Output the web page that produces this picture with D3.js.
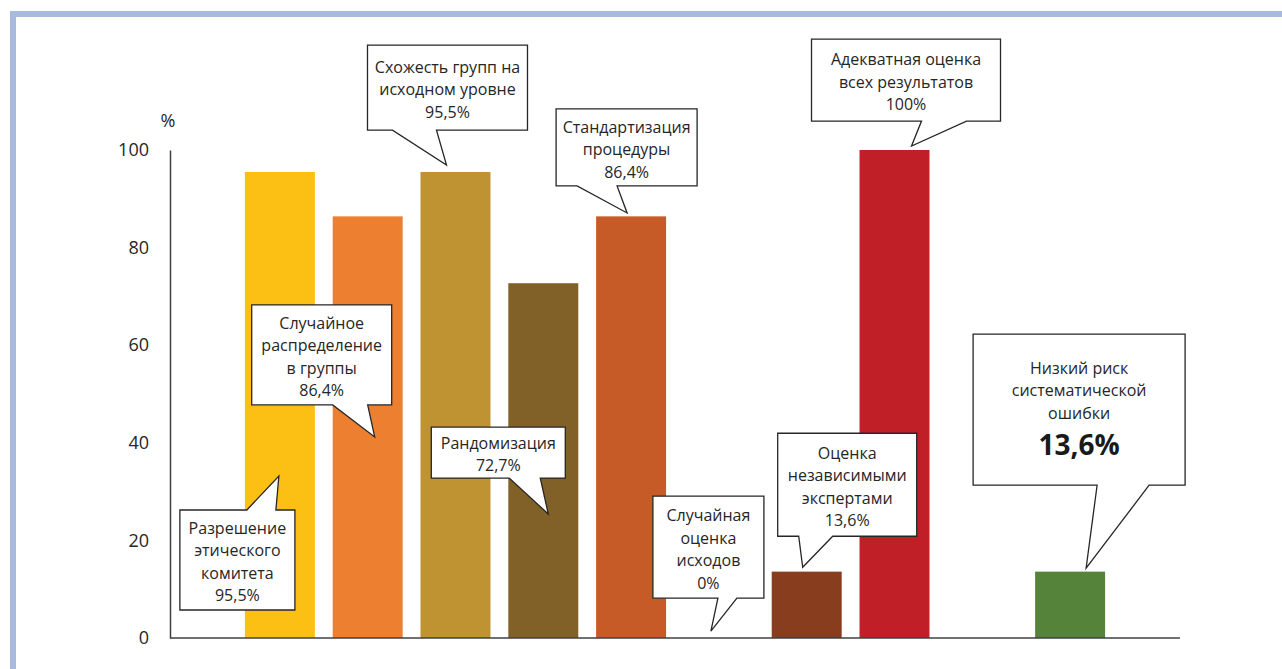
<!DOCTYPE html>
<html><head><meta charset="utf-8">
<script src="https://cdn.jsdelivr.net/npm/d3@7"></script>
<style>
html,body{margin:0;padding:0;background:#fff;}
svg{display:block;font-family:"Open Sans",sans-serif;}
</style></head>
<body>
<svg id="chart" width="1282" height="669"></svg>
<script>
// ---- data ----
const categories = ["Разрешение этического комитета","Случайное распределение в группы","Схожесть групп на исходном уровне","Рандомизация","Стандартизация процедуры","Случайная оценка исходов","Оценка независимыми экспертами","Адекватная оценка всех результатов","","Низкий риск систематической ошибки"];
const values = [95.5, 86.4, 95.5, 72.7, 86.4, 0, 13.6, 100, null, 13.6];
const colors = ["#FCBF14","#ED7F31","#BF9331","#816127","#C65B27","#C65B27","#873D1E","#C01F27","#ffffff","#548339"];
const yTicks = [0, 20, 40, 60, 80, 100];
const calloutLines = [
  ["Разрешение","этического","комитета","95,5%"],
  ["Случайное","распределение","в группы","86,4%"],
  ["Схожесть групп на","исходном уровне","95,5%"],
  ["Рандомизация","72,7%"],
  ["Стандартизация","процедуры","86,4%"],
  ["Случайная","оценка","исходов","0%"],
  ["Оценка","независимыми","экспертами","13,6%"],
  ["Адекватная оценка","всех результатов","100%"],
  ["Низкий риск","систематической","ошибки"]
];
const boldLabel = "13,6%";

// ---- layout (annotation geometry, px relative to tip) ----
const callouts = [
  {cat:0, tipDx:-1,  tipV:33.2, box:[-99, 34, 115, 100], base:[-32,-3]},
  {cat:1, tipDx:7,   tipV:41.2, box:[-123,-132,140,100], base:[-42,-7]},
  {cat:2, tipDx:-9,  tipV:96.9, box:[-79,-120,160,85],   base:[-54,-10]},
  {cat:3, tipDx:5,   tipV:25.4, box:[-117,-87,134,51],   base:[-39,-8]},
  {cat:4, tipDx:-4,  tipV:87.1, box:[-71,-104,141,77],   base:[-50,-10]},
  {cat:5, tipDx:-8,  tipV:1.4,  box:[-58,-135,111,102],  base:[7,26]},
  {cat:6, tipDx:-4,  tipV:14.5, box:[-25,-134,139,103],  base:[-4,30]},
  {cat:7, tipDx:17,  tipV:100.8,box:[-100,-107,189,82],  base:[10,55]},
  {cat:9, tipDx:16,  tipV:14.3, box:[-113,-234,212,151], base:[11,63], bold:true}
];

const svg = d3.select("#chart");
const W = 1282, H = 669;
const x0 = 170, x1 = 1180, yTop = 150, yBot = 638;

// frame
svg.append("rect").attr("x",10).attr("y",11).attr("width",W-10).attr("height",6).attr("fill","#A9BBDC");
svg.append("rect").attr("x",10).attr("y",11).attr("width",6).attr("height",H-11).attr("fill","#A9BBDC");

const x = d3.scaleBand().domain(d3.range(categories.length)).range([x0,x1]).paddingInner(0.203).paddingOuter(0.853);
const y = d3.scaleLinear().domain([0,100]).range([yBot,yTop]);

// bars
svg.append("g").selectAll("rect").data(values.map((v,i)=>({v,i}))).join("rect")
  .filter(d=>d.v!==null)
  .attr("x",d=>x(d.i)).attr("width",x.bandwidth())
  .attr("y",d=>y(d.v)).attr("height",d=>y(0)-y(d.v))
  .attr("fill",d=>colors[d.i]);

// axes
const yAxis = svg.append("g").attr("transform",`translate(${x0},0)`)
  .call(d3.axisLeft(y).tickValues(yTicks).tickSize(0).tickPadding(21));
yAxis.select(".domain").attr("stroke","#404040").attr("stroke-width",1.5);
yAxis.selectAll("text").attr("font-size",18).attr("fill","#262626").attr("font-family","'Open Sans',sans-serif");
const xAxis = svg.append("g").attr("transform",`translate(0,${yBot})`)
  .call(d3.axisBottom(x).tickSize(0).tickFormat(""));
xAxis.select(".domain").attr("stroke","#404040").attr("stroke-width",1.5).attr("d",`M${x0},0H${x1}`);

svg.append("text").attr("x",168).attr("y",127).attr("text-anchor","middle")
  .attr("font-size",18).attr("fill","#262626").text("%");

// callouts
const cg = svg.append("g");
callouts.forEach((c,k)=>{
  const tx = x(c.cat)+x.bandwidth()/2 + c.tipDx;
  const ty = y(c.tipV);
  const L = tx + c.box[0], T = ty + c.box[1], R = L + c.box[2], B = T + c.box[3];
  const b0 = tx + c.base[0], b1 = tx + c.base[1];
  let p;
  if (T > ty) { // box below tip: tail on top edge
    p = `M${L},${T}L${b0},${T}L${tx},${ty}L${b1},${T}L${R},${T}L${R},${B}L${L},${B}Z`;
  } else {
    p = `M${L},${T}L${R},${T}L${R},${B}L${b1},${B}L${tx},${ty}L${b0},${B}L${L},${B}Z`;
  }
  cg.append("path").attr("d",p).attr("fill","#fff").attr("stroke","#262626").attr("stroke-width",1.3).attr("stroke-linejoin","miter");
  const lines = calloutLines[k];
  const lh = 22.5;
  const cx = (L+R)/2;
  if (c.bold) {
    const total = lines.length*lh + 32;
    let cy = (T+B)/2 - total/2 + lh/2 - 3;
    lines.forEach((s,i)=>{
      cg.append("text").attr("x",cx).attr("y",cy+i*lh).attr("dy","0.35em")
        .attr("text-anchor","middle").attr("font-size",16).attr("fill","#262626").text(s);
    });
    cg.append("text").attr("x",cx).attr("y",cy+(lines.length-1)*lh+32).attr("dy","0.35em")
      .attr("text-anchor","middle").attr("font-size",28).attr("font-weight","bold").attr("fill","#1a1a1a").text(boldLabel);
  } else {
    const cy0 = (T+B)/2 - (lines.length-1)*lh/2 + 2;
    lines.forEach((s,i)=>{
      cg.append("text").attr("x",cx).attr("y",cy0+i*lh).attr("dy","0.35em")
        .attr("text-anchor","middle").attr("font-size",16).attr("fill","#262626").text(s);
    });
  }
});
</script>
</body></html>
